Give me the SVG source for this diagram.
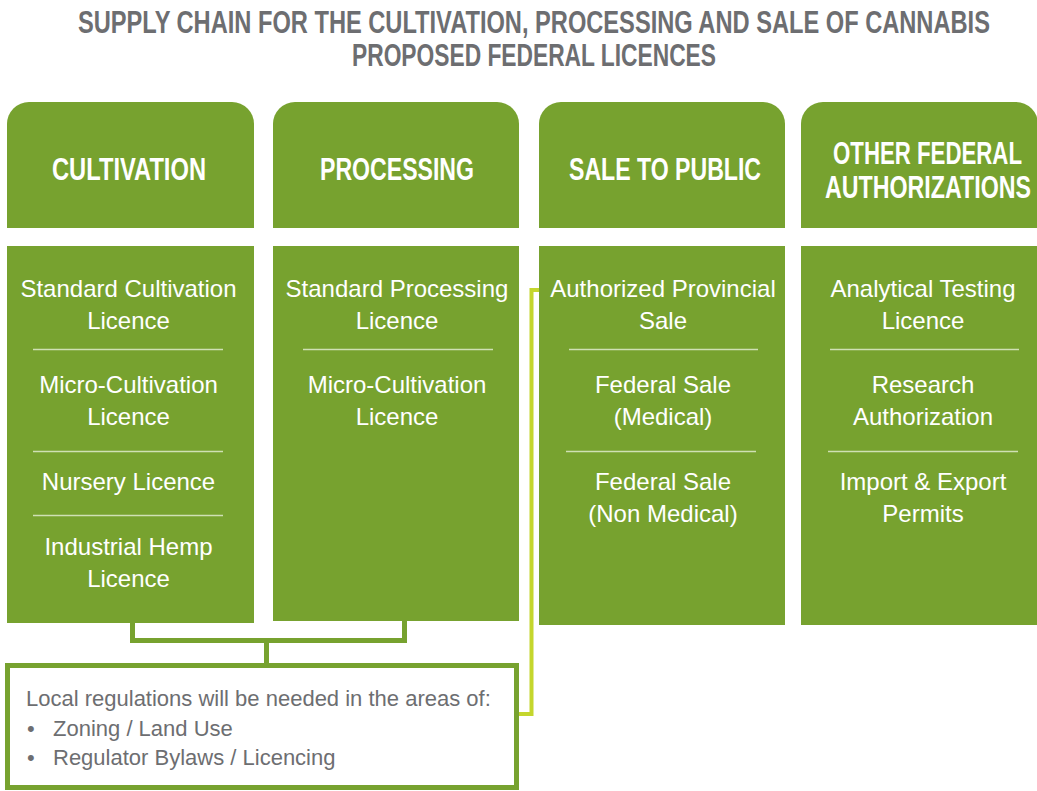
<svg xmlns="http://www.w3.org/2000/svg" width="1037" height="791" viewBox="0 0 1037 791">
<style>
.title{font-family:"Liberation Sans",Arial,sans-serif;font-weight:bold;font-size:32px;fill:#6d6e71}
.head{font-family:"Liberation Sans",Arial,sans-serif;font-weight:bold;font-size:31px;fill:#ffffff}
.body{font-family:"Liberation Sans",Arial,sans-serif;font-size:24px;fill:#ffffff;text-anchor:middle}
.note{font-family:"Liberation Sans",Arial,sans-serif;font-size:22px;fill:#6d6e71}
.green{fill:#77a22f}
.sep{stroke:#cfe0b4;stroke-width:1.5}
.conn{fill:none;stroke:#77a22f;stroke-width:5}
.lime{fill:none;stroke:#c4d62d;stroke-width:4}
</style>
<rect width="1037" height="791" fill="#ffffff"/>
<g id="title">
<text class="title" transform="translate(78,33) scale(0.739,1)" x="0" y="0" textLength="1234" lengthAdjust="spacingAndGlyphs">SUPPLY CHAIN FOR THE CULTIVATION, PROCESSING AND SALE OF CANNABIS</text>
<text class="title" x="352" y="66" textLength="364" lengthAdjust="spacingAndGlyphs">PROPOSED FEDERAL LICENCES</text>
</g>
<g id="connectors">
<path class="conn" d="M132.5,623 V640.5 H404.5 V621"/>
<path class="conn" d="M266.5,640.5 V664"/>
<path class="lime" d="M519,714 H531.5 V290 H546"/>
</g>
<g id="cultivation">
<path class="green" d="M7,228 V124 A22,22 0 0 1 29,102 H232 A22,22 0 0 1 254,124 V228 Z"/>
<text class="head" x="52" y="180" textLength="154" lengthAdjust="spacingAndGlyphs">CULTIVATION</text>
<rect class="green" x="7" y="246" width="247" height="377"/>
<text class="body" x="128.5" y="297">Standard Cultivation</text>
<text class="body" x="128.5" y="329">Licence</text>
<line class="sep" x1="33" y1="349.5" x2="223" y2="349.5"/>
<text class="body" x="128.5" y="393">Micro-Cultivation</text>
<text class="body" x="128.5" y="425">Licence</text>
<line class="sep" x1="33" y1="451.5" x2="223" y2="451.5"/>
<text class="body" x="128.5" y="490">Nursery Licence</text>
<line class="sep" x1="33" y1="515.5" x2="223" y2="515.5"/>
<text class="body" x="128.5" y="555">Industrial Hemp</text>
<text class="body" x="128.5" y="587">Licence</text>
</g>
<g id="processing">
<path class="green" d="M273,228 V124 A22,22 0 0 1 295,102 H497 A22,22 0 0 1 519,124 V228 Z"/>
<text class="head" x="320" y="180" textLength="154" lengthAdjust="spacingAndGlyphs">PROCESSING</text>
<rect class="green" x="273" y="246" width="246" height="375"/>
<text class="body" x="397" y="297">Standard Processing</text>
<text class="body" x="397" y="329">Licence</text>
<line class="sep" x1="303" y1="349.5" x2="493" y2="349.5"/>
<text class="body" x="397" y="393">Micro-Cultivation</text>
<text class="body" x="397" y="425">Licence</text>
</g>
<g id="sale-to-public">
<path class="green" d="M539,228 V124 A22,22 0 0 1 561,102 H763 A22,22 0 0 1 785,124 V228 Z"/>
<text class="head" x="569" y="180" textLength="192" lengthAdjust="spacingAndGlyphs">SALE TO PUBLIC</text>
<rect class="green" x="539" y="246" width="246" height="379"/>
<text class="body" x="663" y="297">Authorized Provincial</text>
<text class="body" x="663" y="329">Sale</text>
<line class="sep" x1="569" y1="349.5" x2="758" y2="349.5"/>
<text class="body" x="663" y="393">Federal Sale</text>
<text class="body" x="663" y="425">(Medical)</text>
<line class="sep" x1="566" y1="451.5" x2="756" y2="451.5"/>
<text class="body" x="663" y="490">Federal Sale</text>
<text class="body" x="663" y="522">(Non Medical)</text>
</g>
<g id="other-federal">
<path class="green" d="M801,228 V124 A22,22 0 0 1 823,102 H1016 A22,22 0 0 1 1038,124 V228 Z"/>
<text class="head" transform="translate(833,164) scale(0.72,1)" x="0" y="0" textLength="262.5" lengthAdjust="spacingAndGlyphs">OTHER FEDERAL</text>
<text class="head" transform="translate(825,198) scale(0.743,1)" x="0" y="0" textLength="277.3" lengthAdjust="spacingAndGlyphs">AUTHORIZATIONS</text>
<rect class="green" x="801" y="246" width="237" height="379"/>
<text class="body" x="923" y="297">Analytical Testing</text>
<text class="body" x="923" y="329">Licence</text>
<line class="sep" x1="830" y1="349.5" x2="1019" y2="349.5"/>
<text class="body" x="923" y="393">Research</text>
<text class="body" x="923" y="425">Authorization</text>
<line class="sep" x1="828" y1="451.5" x2="1018" y2="451.5"/>
<text class="body" x="923" y="490">Import &amp; Export</text>
<text class="body" x="923" y="522">Permits</text>
</g>
<g id="local-regulations">
<rect x="7.5" y="665.5" width="509" height="122" fill="#ffffff" stroke="#77a22f" stroke-width="5"/>
<text class="note" x="26" y="706">Local regulations will be needed in the areas of:</text>
<text class="note" x="27" y="736">•</text>
<text class="note" x="53" y="736">Zoning / Land Use</text>
<text class="note" x="27" y="765">•</text>
<text class="note" x="53" y="765">Regulator Bylaws / Licencing</text>
</g>
</svg>
